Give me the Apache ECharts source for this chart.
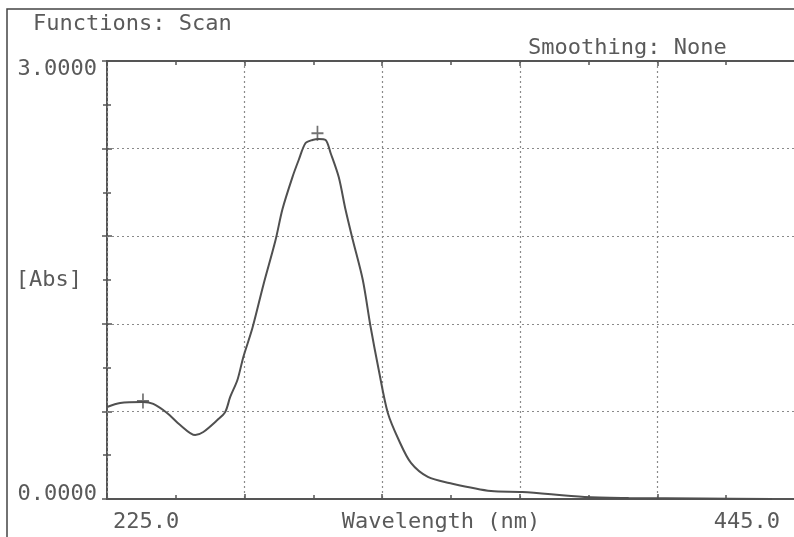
<!DOCTYPE html>
<html>
<head>
<meta charset="utf-8">
<script src="https://cdn.jsdelivr.net/npm/echarts@6/dist/echarts.min.js"></script>
<style>
html,body{margin:0;padding:0;background:#fff;}
#chart{width:794px;height:537px;}
</style>
</head>
<body>
<div id="chart"></div>
<script>
var wavelengths = [225.0, 229.2, 236.5, 239.8, 244.2, 248.4, 253.2, 255.8, 260.3, 262.8, 264.4, 266.7, 268.6, 271.5, 275.0, 278.9, 281.1, 284.3, 286.3, 288.5, 290.7, 292.7, 294.9, 296.5, 299.1, 301.3, 303.6, 306.8, 309.3, 311.9, 314.8, 318.3, 322.2, 327.6, 334.4, 347.8, 357.8, 377.7, 391.8, 415.2, 437.6];
var absorbance  = [0.630, 0.658, 0.664, 0.651, 0.589, 0.507, 0.438, 0.459, 0.541, 0.596, 0.699, 0.815, 0.973, 1.171, 1.466, 1.774, 1.985, 2.205, 2.322, 2.438, 2.459, 2.466, 2.459, 2.370, 2.205, 1.979, 1.774, 1.500, 1.178, 0.884, 0.589, 0.404, 0.247, 0.151, 0.110, 0.055, 0.048, 0.014, 0.007, 0.003, 0.000];
var peakWavelengths = [236.5, 292.3];
var peakAbs = [0.671, 2.505];
var xTickLabels = {225: '225.0', 445: '445.0'};
var yTickLabels = ['0.0000', '3.0000'];
var titleText = 'Functions: Scan';
var subText = 'Smoothing: None';
var xName = 'Wavelength (nm)';
var yName = '[Abs]';

var FONT = 'DejaVu Sans Mono';
var TXT = '#5a5a5a';
var LINE = '#555555';
var GRIDC = '#8a8a8a';

var lineData = wavelengths.map(function (w, i) { return [w, absorbance[i]]; });
var peakData = peakWavelengths.map(function (w, i) { return [w, peakAbs[i]]; });

var chart = echarts.init(document.getElementById('chart'));
var helperX = function (pos, split) {
  return {
    type: 'value', min: 0, max: 5, interval: 1, position: pos,
    axisLine: {show: pos === 'top', lineStyle: {color: LINE, width: 2}},
    axisTick: {show: true, inside: true, length: 5, lineStyle: {color: LINE, width: 1.5}},
    minorTick: {show: true, splitNumber: 2, length: 4, lineStyle: {color: LINE, width: 1.5}},
    axisLabel: {show: false},
    splitLine: {show: split, lineStyle: {color: GRIDC, width: 1.2, type: [2, 3]}},
    z: 1
  };
};
chart.setOption({
  animation: false,
  backgroundColor: '#fff',
  title: [
    {text: titleText, left: 33, top: 13, padding: 0, textStyle: {fontFamily: FONT, fontSize: 22, fontWeight: 'normal', color: TXT}},
    {text: subText, left: 528, top: 37, padding: 0, textStyle: {fontFamily: FONT, fontSize: 22, fontWeight: 'normal', color: TXT}}
  ],
  graphic: [
    {type: 'rect', shape: {x: 7, y: 9, width: 820, height: 560}, style: {fill: 'none', stroke: '#444', lineWidth: 1.5}, silent: true}
  ],
  grid: {left: 107, top: 61, right: -1, bottom: 38, containLabel: false, outerBoundsMode: 'none'},
  xAxis: [
    {
      type: 'value', min: 225, max: 445, position: 'bottom',
      axisLine: {show: true, lineStyle: {color: LINE, width: 2}},
      axisTick: {show: false},
      splitLine: {show: false},
      axisLabel: {
        show: true, showMinLabel: true, showMaxLabel: true,
        alignMinLabel: 'left', alignMaxLabel: 'right',
        margin: 12, padding: [0, 15, 0, 6],
        fontFamily: FONT, fontSize: 22, lineHeight: 22, color: TXT,
        formatter: function (v) { return xTickLabels[v] || ''; }
      },
      name: xName, nameLocation: 'middle', nameGap: 12, nameMoveOverlap: false,
      nameTextStyle: {fontFamily: FONT, fontSize: 22, lineHeight: 22, color: TXT, verticalAlign: 'top', padding: [0, 20, 0, 0]}
    },
    helperX('bottom', true),
    helperX('top', false)
  ],
  yAxis: [
    {
      type: 'value', min: 0, max: 3, interval: 0.6, position: 'left',
      axisLine: {show: true, lineStyle: {color: LINE, width: 2}},
      axisTick: {show: true, inside: true, length: 5, lineStyle: {color: LINE, width: 1.5}},
      minorTick: {show: true, splitNumber: 2, length: 4, lineStyle: {color: LINE, width: 1.5}},
      splitLine: {show: true, lineStyle: {color: GRIDC, width: 1.2, type: [2, 3]}},
      axisLabel: {
        show: true, margin: 10, fontFamily: FONT, fontSize: 22, color: TXT,
        formatter: function (v) {
          if (Math.abs(v) < 1e-9) return '{b|' + yTickLabels[0] + '}';
          if (Math.abs(v - 3) < 1e-9) return '{t|' + yTickLabels[1] + '}';
          return '';
        },
        rich: {
          t: {fontFamily: FONT, fontSize: 22, color: TXT, padding: [16, 0, 0, 0]},
          b: {fontFamily: FONT, fontSize: 22, color: TXT, padding: [0, 0, 10, 0]}
        }
      },
      name: yName, nameLocation: 'middle', nameRotate: 0, nameGap: 25, nameMoveOverlap: false,
      nameTextStyle: {fontFamily: FONT, fontSize: 22, color: TXT, align: 'right', verticalAlign: 'middle'}
    },
    {
      type: 'value', min: 0, max: 3, interval: 0.6, position: 'right',
      axisLine: {show: true, lineStyle: {color: LINE, width: 2}},
      axisTick: {show: true, inside: true, length: 5, lineStyle: {color: LINE, width: 1.5}},
      minorTick: {show: true, splitNumber: 2, length: 4, lineStyle: {color: LINE, width: 1.5}},
      splitLine: {show: false},
      axisLabel: {show: false}
    }
  ],
  series: [
    {
      type: 'line', xAxisIndex: 0, yAxisIndex: 0, data: lineData,
      smooth: 0.3, showSymbol: false,
      lineStyle: {color: '#505050', width: 2}, z: 5
    },
    {
      type: 'scatter', xAxisIndex: 0, yAxisIndex: 0, data: peakData,
      symbol: 'path://M-1,-7H1V-1H7V1H1V7H-1V1H-7V-1H-1Z', symbolSize: [12, 15],
      itemStyle: {color: '#505050'}, z: 6
    }
  ]
});
</script>
</body>
</html>
